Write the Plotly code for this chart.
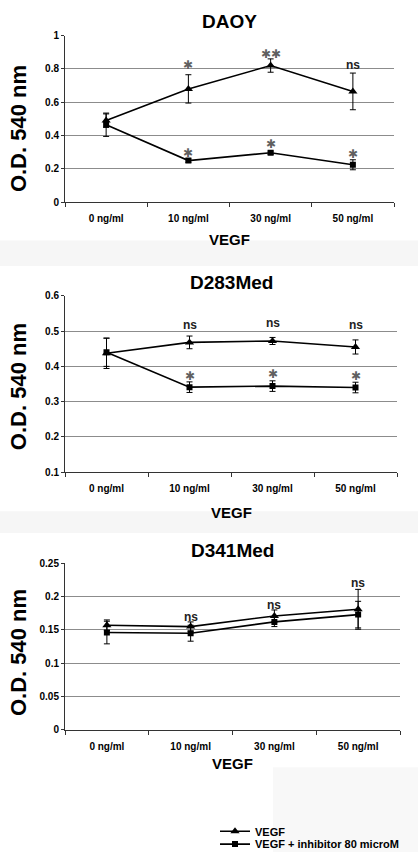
import plotly.graph_objects as go

W, H = 418, 859

def py(p):
    return 1 - p / H

def px(p):
    return p / W

# ---------------- data ----------------
categories = ["0 ng/ml", "10 ng/ml", "30 ng/ml", "50 ng/ml"]

daoy_vegf = [0.49, 0.68, 0.82, 0.665]
daoy_vegf_err = [0.04, 0.085, 0.04, 0.11]
daoy_inh = [0.465, 0.25, 0.297, 0.225]
daoy_inh_err = [0.07, 0.01, 0.01, 0.03]

d283_vegf = [0.437, 0.468, 0.472, 0.455]
d283_vegf_err = [0.043, 0.018, 0.01, 0.02]
d283_inh = [0.44, 0.341, 0.344, 0.340]
d283_inh_err = [0.04, 0.015, 0.015, 0.015]

d341_vegf = [0.157, 0.155, 0.171, 0.181]
d341_vegf_err = [0.008, 0.007, 0.009, 0.03]
d341_inh = [0.146, 0.145, 0.162, 0.173]
d341_inh_err = [0.017, 0.012, 0.007, 0.02]

# significance labels: (category, y, text)
daoy_marks = [("10 ng/ml", 0.823, "✱"), ("30 ng/ml", 0.89, "✱✱"), ("50 ng/ml", 0.823, "ns"),
              ("10 ng/ml", 0.297, "✱"), ("30 ng/ml", 0.35, "✱"), ("50 ng/ml", 0.29, "✱")]
d283_marks = [("10 ng/ml", 0.517, "ns"), ("30 ng/ml", 0.523, "ns"), ("50 ng/ml", 0.516, "ns"),
              ("10 ng/ml", 0.372, "✱"), ("30 ng/ml", 0.377, "✱"), ("50 ng/ml", 0.372, "✱")]
d341_marks = [("10 ng/ml", 0.170, "ns"), ("30 ng/ml", 0.188, "ns"), ("50 ng/ml", 0.220, "ns")]

series_names = ["VEGF", "VEGF + inhibitor 80 microM"]
titles = ["DAOY", "D283Med", "D341Med"]
y_ranges = [[0, 1], [0.1, 0.6], [0, 0.25]]
y_dticks = [0.2, 0.1, 0.05]

# ---------------- layout geometry (pixels) ----------------
panels = [
    dict(top=30, bottom=199.3, right=394, title_y=16, xt_y=237, yt_y=125,
         vegf=daoy_vegf, vegf_err=daoy_vegf_err, inh=daoy_inh, inh_err=daoy_inh_err, marks=daoy_marks),
    dict(top=294.3, bottom=473.3, right=397, title_y=280.5, xt_y=514, yt_y=387,
         vegf=d283_vegf, vegf_err=d283_vegf_err, inh=d283_inh, inh_err=d283_inh_err, marks=d283_marks),
    dict(top=566, bottom=734.7, right=400, title_y=553, xt_y=769.5, yt_y=657,
         vegf=d341_vegf, vegf_err=d341_vegf_err, inh=d341_inh, inh_err=d341_inh_err, marks=d341_marks),
]
LEFT = 65
FONT = "Liberation Sans, Arial, sans-serif"

fig = go.Figure()
annotations = []
shapes = []

for i, p in enumerate(panels):
    k = "" if i == 0 else str(i + 1)
    xa, ya = "x" + k, "y" + k
    fig.add_trace(go.Scatter(
        x=categories, y=p["vegf"], mode="lines+markers", name=series_names[0],
        xaxis=xa, yaxis=ya, showlegend=(i == 0), legend="legend",
        line=dict(color="black", width=1.6),
        marker=dict(symbol="triangle-up", size=8, color="black"),
        error_y=dict(type="data", array=p["vegf_err"], color="black", thickness=1, width=3),
    ))
    fig.add_trace(go.Scatter(
        x=categories, y=p["inh"], mode="lines+markers", name=series_names[1],
        xaxis=xa, yaxis=ya, showlegend=(i == 0), legend="legend2",
        line=dict(color="black", width=1.6),
        marker=dict(symbol="square", size=6, color="black"),
        error_y=dict(type="data", array=p["inh_err"], color="black", thickness=1, width=3),
    ))
    xdom = [px(LEFT), px(p["right"])]
    ydom = [py(p["bottom"]), py(p["top"])]
    fig.update_layout(**{
        "xaxis" + k: dict(
            domain=xdom, anchor=ya, type="category", categoryorder="array",
            categoryarray=categories, range=[-0.5, 3.5], tickson="boundaries",
            ticks="outside", ticklen=4, tickcolor="#333", showline=True,
            linecolor="#333", linewidth=1, showgrid=False, zeroline=False,
            tickfont=dict(family=FONT, size=10, color="black", weight="bold"),
            ticklabelstandoff=7,
        ),
        "yaxis" + k: dict(
            domain=ydom, anchor=xa, range=y_ranges[i], dtick=y_dticks[i],
            tick0=0, showgrid=True, gridcolor="#8c8c8c", gridwidth=1,
            showline=True, linecolor="#333", linewidth=1, ticks="outside",
            ticklen=3, tickcolor="#333", zeroline=False,
            tickfont=dict(family=FONT, size=10, color="black", weight="bold"),
        ),
    })
    cx = px((LEFT + p["right"]) / 2)
    annotations.append(dict(text="<b>%s</b>" % titles[i], x=cx, y=py(p["title_y"]),
                            xref="paper", yref="paper", showarrow=False,
                            xanchor="center", yanchor="middle",
                            font=dict(family=FONT, size=19, color="black")))
    annotations.append(dict(text="<b>VEGF</b>", x=cx, y=py(p["xt_y"]),
                            xref="paper", yref="paper", showarrow=False,
                            xanchor="center", yanchor="middle",
                            font=dict(family=FONT, size=15, color="black")))
    annotations.append(dict(text="<b>O.D. 540 nm</b>", x=px(18), y=py(p["yt_y"]),
                            xref="paper", yref="paper", showarrow=False, textangle=-90,
                            xanchor="center", yanchor="middle",
                            font=dict(family=FONT, size=22, color="black")))
    for cat, yv, txt in p["marks"]:
        is_star = "✱" in txt
        annotations.append(dict(
            text=txt if is_star else "<b>%s</b>" % txt, x=cat, y=yv, xref=xa, yref=ya,
            showarrow=False, xanchor="center", yanchor="middle",
            font=dict(family="DejaVu Sans" if is_star else FONT,
                      size=12,
                      color="#606060" if is_star else "#222")))

# light background bands
for y0, y1 in [(238, 264), (513, 535)]:
    shapes.append(dict(type="rect", xref="paper", yref="paper", x0=0, x1=1,
                       y0=py(y1), y1=py(y0), fillcolor="#f6f6f6", line_width=0, layer="below"))
shapes.append(dict(type="rect", xref="paper", yref="paper", x0=px(273), x1=1,
                   y0=0, y1=py(773), fillcolor="#f8f8f8", line_width=0, layer="below"))

leg_common = dict(xanchor="left", yanchor="middle", bgcolor="rgba(0,0,0,0)",
                  font=dict(family=FONT, size=11, color="black", weight="bold"),
                  itemwidth=30, borderwidth=0)
fig.update_layout(
    width=W, height=H, margin=dict(l=0, r=0, t=0, b=0),
    paper_bgcolor="white", plot_bgcolor="rgba(0,0,0,0)",
    annotations=annotations, shapes=shapes,
    legend=dict(x=px(215), y=py(838), **leg_common),
    legend2=dict(x=px(215), y=py(851), **leg_common),
)

fig.write_html("out.html", config={"displayModeBar": False},
               post_script="document.body.style.margin='0';document.body.style.overflow='hidden';")
